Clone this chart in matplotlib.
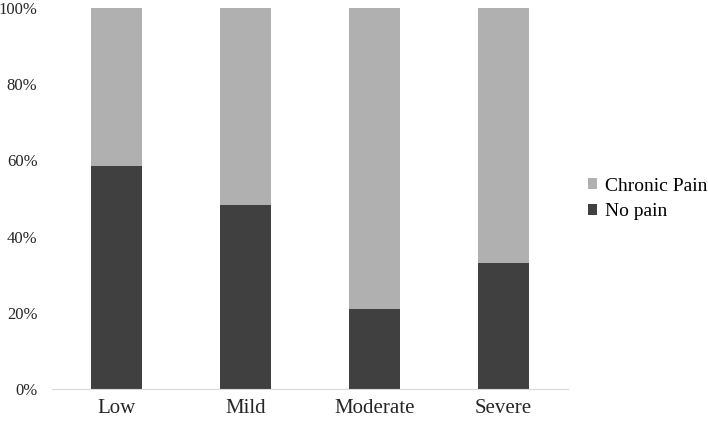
import matplotlib
matplotlib.use('Agg')
import matplotlib.pyplot as plt
from matplotlib.ticker import FuncFormatter

categories = ['Low', 'Mild', 'Moderate', 'Severe']
no_pain = [58.6, 48.3, 21.0, 33.1]
chronic_pain = [100 - v for v in no_pain]

plt.rcParams['font.family'] = ['Liberation Serif', 'DejaVu Serif']

fig = plt.figure(figsize=(7.08, 4.21), dpi=100)
ax = fig.add_axes([52 / 708, 1 - 389 / 421, 516 / 708, 381 / 421])

x = range(len(categories))
ax.bar(x, no_pain, width=0.40, color='#404040', label='No pain')
ax.bar(x, chronic_pain, width=0.40, bottom=no_pain, color='#b0b0b0', label='Chronic Pain')

ax.set_xlim(-0.5, len(categories) - 0.5)
ax.set_ylim(0, 100)
ax.set_yticks([0, 20, 40, 60, 80, 100])
ax.yaxis.set_major_formatter(FuncFormatter(lambda v, p: f'{v:.0f}%'))
ax.set_xticks(list(x))
ax.set_xticklabels(categories)

for s in ['top', 'right', 'left']:
    ax.spines[s].set_visible(False)
ax.spines['bottom'].set_color('#d9d9d9')
ax.tick_params(axis='y', length=0, labelsize=12, colors='#262626', pad=10.5)
ax.tick_params(axis='x', length=0, labelsize=15, colors='#262626', pad=7)

handles, labels = ax.get_legend_handles_labels()
ax.legend(handles[::-1], labels[::-1], loc='center left', bbox_to_anchor=(570 / 708, 1 - 199 / 421),
          bbox_transform=fig.transFigure, frameon=False, fontsize=14,
          handlelength=0.5, handleheight=0.5, handletextpad=0.4, labelspacing=0.45)

fig.savefig('out.png', dpi=100)
